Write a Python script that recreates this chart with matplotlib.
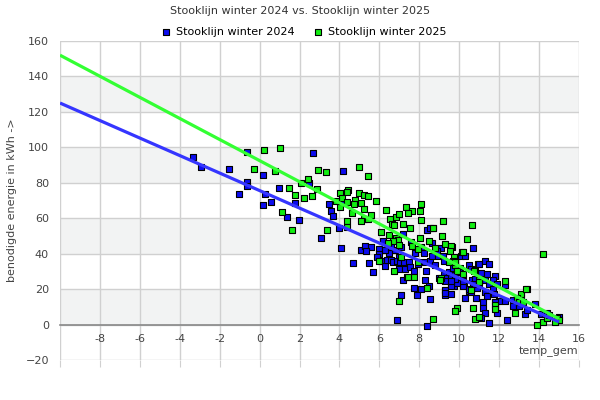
import numpy as np
import matplotlib
matplotlib.use('Agg')
import matplotlib.pyplot as plt

title = 'Stooklijn winter 2024 vs. Stooklijn winter 2025'
label_2024 = 'Stooklijn winter 2024'
label_2025 = 'Stooklijn winter 2025'
x_label = 'temp_gem'
y_label = 'benodigde energie in kWh ->'

# daily points, temp_gem (x) and energy (y)
x_2024 = [-3.35, -2.95, -1.54, -1.04, -0.64, -0.64, -0.64, 0.17, 0.27, 0.17, 0.57, 0.97,
          1.37, 1.77, 1.97, 2.67, 2.47, 3.08, 3.48, 3.58, 3.68, 3.98, 4.15, 4.08, 4.18,
          4.68, 5.07, 5.29, 5.59, 5.34, 5.99, 5.99, 6.19, 6.49, 6.79, 7.09, 5.49, 5.69,
          5.89, 6.09, 6.29, 6.39, 6.59, 6.69, 6.99, 6.89, 7.04, 6.99, 7.24, 7.29, 7.49,
          7.54, 7.74, 7.79, 7.94, 8.24, 8.29, 8.34, 8.54, 8.64, 8.39, 8.54, 8.69, 8.64,
          8.79, 8.94, 9.09, 9.19, 9.24, 9.24, 9.34, 9.49, 9.59, 9.69, 9.79, 9.59, 9.29,
          9.29, 9.74, 10.04, 10.09, 10.19, 10.24, 10.49, 10.64, 10.94, 10.99, 10.49, 10.89,
          10.29, 10.84, 8.54, 8.09, 7.74, 7.89, 7.19, 7.39, 8.29, 8.49, 8.99, 6.89, 8.39,
          7.09, 10.7, 10.3, 9.65, 10.6, 10.8, 11.0, 11.3, 11.5, 11.1, 11.4, 11.8, 10.8,
          10.7, 11.0, 11.3, 11.5, 11.7, 11.9, 12.3, 11.7, 11.3, 11.4, 10.6, 10.5, 10.2,
          10.2, 9.9, 9.6, 9.3, 11.75, 12.0, 12.3, 12.7, 13.1, 13.4, 12.7, 13.0, 13.3,
          13.8, 13.4, 14.1, 14.3, 11.8, 11.2, 11.2, 11.3, 11.9, 11.5, 11.1, 12.4, 10.0,
          9.9, 9.8, 9.6, 9.3, 9.6, 9.3, 14.4, 15.0, 7.2, 6.3, 6.6, 7.6, 8.1, 8.9]
y_2024 = [94.7, 89.1, 88.0, 73.8, 97.6, 80.6, 78.4, 84.6, 73.8, 67.6, 69.3, 77.2,
          60.8, 68.8, 59.2, 97.0, 80.1, 49.0, 68.2, 64.2, 61.4, 54.6, 68.5, 43.3, 86.8,
          34.9, 42.2, 44.5, 43.9, 41.6, 42.8, 39.9, 47.3, 40.5, 42.2, 43.9, 34.9, 29.8,
          38.2, 36.0, 33.2, 36.6, 36.6, 35.4, 38.2, 36.0, 35.4, 31.5, 35.4, 31.5, 35.4,
          32.6, 30.3, 40.5, 34.3, 40.5, 35.4, 30.3, 36.0, 38.8, 53.5, 54.6, 54.6, 46.2,
          33.7, 38.8, 43.3, 38.8, 36.0, 28.1, 26.4, 29.8, 26.4, 32.0, 28.1, 22.4, 19.6,
          16.8, 21.9, 32.0, 38.8, 26.4, 22.4, 33.7, 25.3, 34.3, 27.5, 19.0, 20.7,
          15.1, 15.1, 14.5, 20.2, 20.7, 16.8, 25.3, 27.0, 25.3, 21.9, 26.4, 2.7, -0.7,
          16.8, 43.3, 38.8, 43.9, 31.5, 30.9, 34.3, 36.0, 34.3, 29.2, 28.6, 27.5, 25.8,
          23.0, 23.6, 25.3, 23.0, 25.3, 23.0, 22.4, 20.2, 18.5, 16.2, 18.5, 20.2, 21.9,
          24.7, 23.6, 21.9, 19.6, 17.3, 13.4, 13.4, 14.0, 16.2, 20.2, 10.6, 10.6, 6.0,
          11.7, 8.3, 6.0, 6.0, 12.8, 12.8, 9.4, 6.6, 6.6, 1.0, 3.8, 2.7, 29.8,
          31.5, 25.8, 24.4, 24.7, 17.0, 18.0, 6.4, 4.1, 51.1, 42.0, 44.0, 46.5, 44.0, 41.5]

x_2025 = [0.22, 1.02, -0.29, 0.77, 1.47, 1.77, 2.22, 2.07, 2.42, 2.62, 2.92, 3.32, 2.87,
          1.12, 1.62, 3.38, 4.98, 5.43, 4.03, 4.43, 4.38, 4.13, 4.98, 5.23, 5.43, 5.84,
          4.78, 4.73, 5.08, 5.23, 4.63, 4.38, 4.03, 3.83, 4.38, 4.38, 5.23, 5.08, 5.43,
          6.34, 6.84, 6.54, 6.99, 7.34, 7.64, 7.44, 8.09, 8.04, 8.09, 6.64, 6.74, 7.19,
          7.54, 6.84, 6.94, 6.69, 6.44, 8.04, 7.64, 7.94, 9.14, 9.19, 8.69, 9.29, 9.59,
          9.54, 10.4, 10.65, 10.15, 9.75, 9.8, 9.1, 9.05, 9.9, 10.75, 11.0, 8.39, 7.74,
          7.41, 6.74, 5.99, 7.09, 7.94, 6.99, 9.9, 9.8, 8.7, 10.8, 11.0, 10.6, 9.7,
          10.2, 9.5, 9.8, 10.2, 11.0, 12.3, 13.1, 12.9, 13.0, 13.2, 12.8, 11.8, 11.8,
          10.7, 14.2, 13.9, 14.2, 14.4, 14.5, 14.9, 15.0, 14.8, 13.35, 8.5, 8.8, 5.6,
          6.1, 6.5, 7.0]
y_2025 = [98.7, 99.8, 88.0, 86.8, 77.2, 73.3, 71.6, 80.1, 82.3, 72.7, 87.4, 86.3, 76.6,
          63.7, 53.5, 53.5, 89.1, 84.0, 74.4, 76.0, 75.0, 71.6, 74.4, 73.3, 72.7, 69.9,
          70.4, 68.2, 68.8, 65.4, 63.1, 69.3, 66.5, 69.9, 58.6, 55.2, 59.7, 58.6, 59.7,
          64.8, 60.8, 59.7, 62.5, 66.5, 64.2, 63.1, 68.2, 64.2, 59.2, 56.9, 56.3, 56.9,
          54.6, 49.0, 47.9, 47.3, 46.2, 49.0, 44.5, 42.8, 50.1, 58.6, 54.6, 45.6, 44.5,
          41.6, 48.4, 56.3, 41.1, 38.2, 33.7, 26.4, 25.3, 30.3, 30.3, 25.3, 20.7, 27.0,
          27.0, 30.3, 36.0, 38.2, 35.4, 13.4, 9.4, 7.7, 3.2, 3.2, 4.4, 19.6, 36.0,
          41.1, 35.4, 35.4, 28.6, 24.1, 24.7, 17.3, 15.1, 12.8, 12.8, 6.6, 11.1, 8.9,
          9.4, 39.9, -0.2, 1.5, 3.8, 5.5, 3.8, 2.7, 1.5, 20.2, 47.0, 43.0, 62.0,
          52.0, 50.5, 45.0]

# trend lines (intercept, slope)
trend_2024 = (75.6, -4.94)
trend_2025 = (92.5, -5.95)

blue = '#0c0cf0'
green = '#11ee11'
line_blue = '#3535ff'
line_green = '#33ff33'
band = '#f2f3f3'
grid = '#d0d0d0'
text_col = '#444444'

plt.rcParams['font.family'] = 'DejaVu Sans'
fig = plt.figure(figsize=(6, 4), dpi=100)
ax = fig.add_axes([0.1, 0.1, 0.865, 0.7975])

xmin, xmax, ymin, ymax = -10, 16, -20, 160
ax.set_xlim(xmin, xmax)
ax.set_ylim(ymin, ymax)

# alternating background bands
for lo in range(0, 160, 40):
    ax.axhspan(lo, lo + 20, color=band, zorder=0, lw=0)

ax.set_xticks(np.arange(-10, 17, 2))
ax.set_xticklabels(['' if t == -10 else str(t) for t in range(-10, 17, 2)])
ax.set_yticks(np.arange(-20, 161, 20))
ax.grid(True, color=grid, lw=1, zorder=0.5)
ax.set_axisbelow(True)

for s in ['left', 'right', 'top']:
    ax.spines[s].set_visible(False)
ax.spines['bottom'].set_position(('data', 0))
ax.spines['bottom'].set_color('#888888')
ax.spines['bottom'].set_linewidth(1.2)
ax.tick_params(axis='x', length=0, pad=7, labelsize=8, labelcolor=text_col)
ax.tick_params(axis='y', length=0, pad=8, labelsize=8, labelcolor=text_col)

# small tick marks below the plot area
sec = ax.secondary_xaxis('bottom')
sec.set_xticks(np.arange(-10, 17, 2))
sec.tick_params(length=5, color=grid, labelbottom=False)
sec.spines['bottom'].set_visible(False)

ax.scatter(x_2024, y_2024, s=16, marker='s', color=blue, edgecolors='black',
           linewidths=0.8, zorder=3, label=label_2024)
ax.scatter(x_2025, y_2025, s=16, marker='s', color=green, edgecolors='black',
           linewidths=0.8, zorder=4, label=label_2025)

x_max = max(max(x_2024), max(x_2025))
xs = np.array([xmin, x_max])
ax.plot(xs, trend_2024[0] + trend_2024[1] * xs, color=line_blue, lw=2.3, zorder=5,
        solid_capstyle='butt')
ax.plot(xs, trend_2025[0] + trend_2025[1] * xs, color=line_green, lw=2.3, zorder=5,
        solid_capstyle='butt')

fig.text(0.5, 0.972, title, ha='center', va='center', fontsize=8, color='#333333')
leg = fig.legend(loc='center', bbox_to_anchor=(0.505, 0.92), ncol=2, frameon=True,
                 fontsize=8, handletextpad=0.3, columnspacing=1.5, markerscale=1.2,
                 borderpad=0.2, handlelength=1.2)
leg.get_frame().set_facecolor('white')
leg.get_frame().set_edgecolor('white')
leg.get_frame().set_alpha(1)

ax.text(15.95, -15.5, x_label, ha='right', va='center', fontsize=8, color=text_col)
fig.text(0.02, 0.5, y_label, rotation=90, ha='center', va='center', fontsize=8,
         color=text_col)

plt.savefig('out.png', dpi=100)
